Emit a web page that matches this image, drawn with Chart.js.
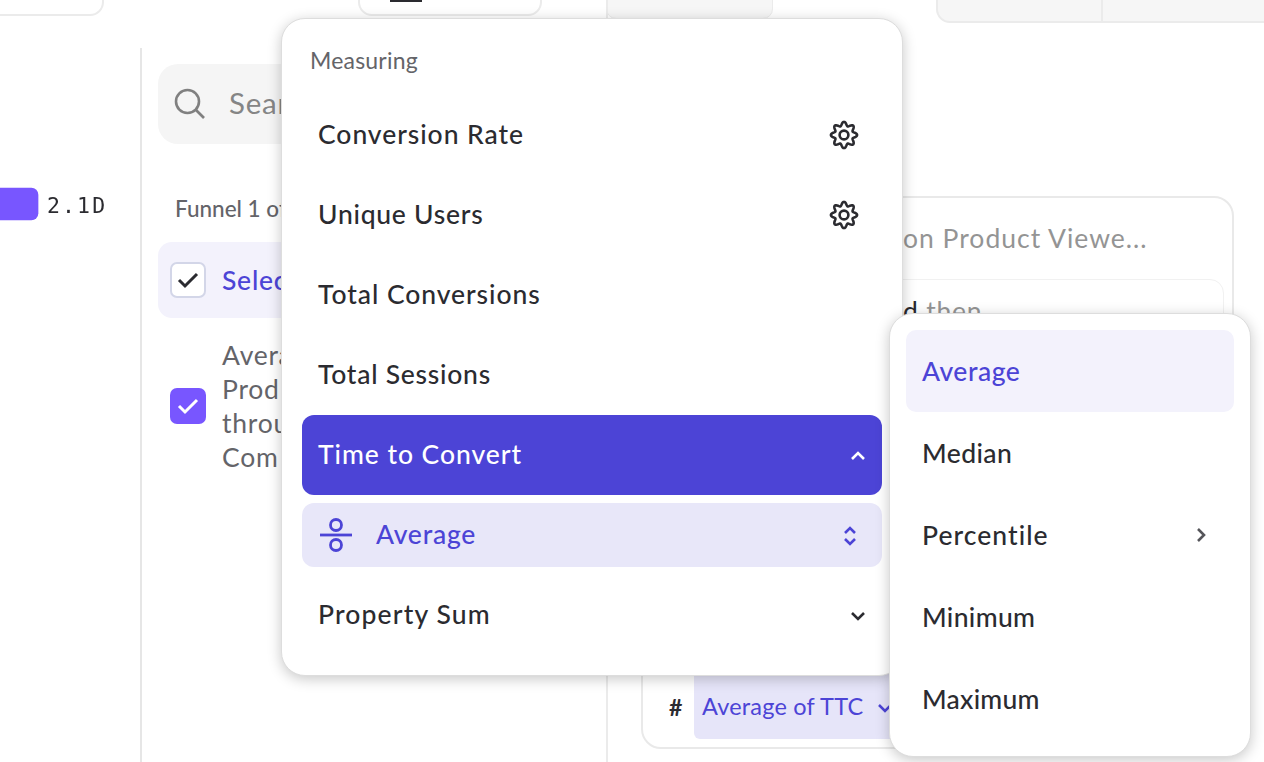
<!DOCTYPE html>
<html>
<head>
<meta charset="utf-8">
<title>Time to Convert</title>
<script src="https://cdn.jsdelivr.net/npm/chart.js@4"></script>
<style>
html,body{margin:0;padding:0;background:#fff;}
body{width:1264px;height:762px;overflow:hidden;position:relative;font-family:'Lato',sans-serif;color:#2b2b30;-webkit-font-smoothing:antialiased;}
.box,.t,svg,canvas{position:absolute;}
.box{box-sizing:border-box;}
.t{white-space:nowrap;line-height:1;transform:translateY(-50%);letter-spacing:.75px;margin-top:-1px;}
.item{font-size:26.5px;font-weight:500;left:318px;}
.sub{font-size:26.5px;font-weight:500;left:922px;}
.grey{color:#646469;font-size:26.5px;left:222px;}
.popup{background:#fff;border-radius:24px;border:1px solid #ddd;box-shadow:0 3px 14px rgba(0,0,0,.22);}
</style>
</head>
<body>
<!-- background page -->
<div class="box" style="left:-20px;top:-20px;width:124px;height:36px;border:2px solid #ebebeb;border-radius:14px;"></div>
<div class="box" style="left:358px;top:-20px;width:184px;height:36px;border:2px solid #ebebeb;border-radius:14px;"></div>
<div class="box" style="left:390px;top:-4px;width:32px;height:6px;background:#2b2b30;"></div>
<div class="box" style="left:606px;top:-20px;width:167px;height:39px;background:#f6f6f6;border:1px solid #ebebeb;border-radius:10px;"></div>
<div class="box" style="left:936px;top:-20px;width:360px;height:43px;background:#f6f6f6;border:2px solid #ebebeb;border-radius:14px;"></div>
<div class="box" style="left:1101px;top:0;width:2px;height:22px;background:#ebebeb;"></div>
<div class="box" style="left:140px;top:48px;width:2px;height:714px;background:#e6e6e6;"></div>
<div class="box" style="left:606px;top:0;width:2px;height:762px;background:#ebebeb;"></div>

<canvas id="grafico" style="left:0;top:169px;"></canvas>

<div class="box" style="left:158px;top:64px;width:200px;height:80px;background:#f5f5f5;border-radius:20px;"></div>
<svg style="left:174px;top:88px;" width="32" height="32" viewBox="0 0 32 32" fill="none" stroke="#808080" stroke-width="2.6"><circle cx="13.5" cy="13.5" r="11.5"/><line x1="22" y1="22" x2="30" y2="30"/></svg>
<div class="t" style="left:229px;top:104px;font-size:29.5px;color:#858585;">Sear</div>
<div class="t" style="left:175px;top:210px;font-size:22.5px;color:#646469;letter-spacing:0;font-weight:500;">Funnel 1 of</div>
<div class="box" style="left:158px;top:242px;width:200px;height:76px;background:#f3f2fc;border-radius:14px;"></div>
<div class="box" style="left:170px;top:262px;width:36px;height:36px;background:#fff;border:2px solid #d3d6e8;border-radius:7px;"></div>
<svg style="left:176px;top:270px;" width="24" height="20" fill="none" stroke="#2b2b30" stroke-width="3"><path d="M3 10l6 6L21 4"/></svg>
<div class="t" style="left:222px;top:281px;font-size:26.5px;color:#4c44d6;font-weight:500;">Selec</div>
<div class="box" style="left:170px;top:388px;width:36px;height:36px;background:#7856ff;border-radius:7px;"></div>
<svg style="left:176px;top:396px;" width="24" height="20" fill="none" stroke="#fff" stroke-width="3"><path d="M3 10l6 6L21 4"/></svg>
<div class="t grey" style="top:356px;">Avera</div>
<div class="t grey" style="top:390px;">Prod</div>
<div class="t grey" style="top:424px;">throu</div>
<div class="t grey" style="top:458px;">Com</div>

<div class="box" style="left:641px;top:196px;width:593px;height:553px;background:#fff;border:2px solid #e9e9e9;border-radius:20px;"></div>
<div class="t" style="left:903px;top:239px;font-size:26.5px;color:#949494;letter-spacing:1px;">on Product Viewe...</div>
<div class="box" style="left:700px;top:279px;width:524px;height:100px;background:#fff;border:1px solid #f1f1f1;border-radius:14px;"></div>
<div class="t" style="left:903px;top:312px;font-size:26.5px;color:#2b2b30;">d <span style="color:#949494;">then</span></div>
<div class="t" style="left:669px;top:708px;font-size:23px;font-weight:700;">#</div>
<div class="box" style="left:694px;top:660px;width:220px;height:79px;background:#e6e5f9;border-radius:6px;"></div>
<div class="t" style="left:702px;top:708px;font-size:23.5px;color:#4c44d6;letter-spacing:.2px;">Average of TTC</div>
<svg style="left:877px;top:702px;" width="16" height="12" fill="none" stroke="#4c44d6" stroke-width="2.5"><path d="M2 3l6 6 6-6"/></svg>

<!-- main menu -->
<div class="box popup" style="left:281px;top:18px;width:622px;height:658px;"></div>
<div class="t" style="left:310px;top:61px;font-size:23px;color:#646469;letter-spacing:.2px;">Measuring</div>
<div class="t item" style="top:135px;letter-spacing:.95px;">Conversion Rate</div>
<svg class="gear" style="left:829px;top:120px;" width="30" height="30"></svg>
<div class="t item" style="top:215px;">Unique Users</div>
<svg class="gear" style="left:829px;top:200px;" width="30" height="30"></svg>
<div class="t item" style="top:295px;letter-spacing:.95px;">Total Conversions</div>
<div class="t item" style="top:375px;">Total Sessions</div>
<div class="box" style="left:302px;top:415px;width:580px;height:80px;background:#4c44d6;border-radius:12px;"></div>
<div class="t item" style="top:455px;color:#fff;letter-spacing:.95px;">Time to Convert</div>
<svg style="left:849px;top:449px;" width="18" height="12" fill="none" stroke="#fff" stroke-width="2.6"><path d="M3 10l6-6 6 6"/></svg>
<div class="box" style="left:302px;top:503px;width:580px;height:64px;background:#e8e7f9;border-radius:12px;"></div>
<svg style="left:318px;top:517px;" width="36" height="36" fill="none" stroke="#4c44d6" stroke-width="2.8"><circle cx="18" cy="8" r="5.5"/><line x1="2" y1="18" x2="34" y2="18"/><circle cx="18" cy="28" r="5.5"/></svg>
<div class="t item" style="left:376px;top:535px;color:#4c44d6;">Average</div>
<svg style="left:842px;top:524px;" width="16" height="24" fill="none" stroke="#4c44d6" stroke-width="2.6"><path d="M3 9l5-5 5 5M3 15l5 5 5-5"/></svg>
<div class="t item" style="top:615px;letter-spacing:1.15px;">Property Sum</div>
<svg style="left:849px;top:610px;" width="18" height="12" fill="none" stroke="#2b2b30" stroke-width="2.6"><path d="M3 3l6 6 6-6"/></svg>

<!-- submenu -->
<div class="box popup" style="left:889px;top:313px;width:362px;height:444px;"></div>
<div class="box" style="left:906px;top:330px;width:328px;height:82px;background:#f3f2fc;border-radius:10px;"></div>
<div class="t sub" style="top:372px;color:#4c44d6;letter-spacing:.5px;">Average</div>
<div class="t sub" style="top:454px;letter-spacing:.4px;">Median</div>
<div class="t sub" style="top:536px;letter-spacing:1.05px;">Percentile</div>
<svg style="left:1195px;top:526px;" width="14" height="18" fill="none" stroke="#55555a" stroke-width="2.6"><path d="M3 3l6 6-6 6"/></svg>
<div class="t sub" style="top:618px;letter-spacing:.35px;">Minimum</div>
<div class="t sub" style="top:700px;letter-spacing:.25px;">Maximum</div>

<script>
var categorias = ['Average of TTC'];
var valores = [2.1];
var rotulos = ['2.1D'];

// gear icons of the menu
document.querySelectorAll('.gear').forEach(function (el) {
  var d = '';
  for (var i = 0; i <= 120; i++) {
    var a = i / 120 * Math.PI * 2;
    var r = 11.2 + 1.9 * Math.cos(a * 8);
    d += (i ? 'L' : 'M') + (15 + r * Math.sin(a)).toFixed(2) + ' ' + (15 - r * Math.cos(a)).toFixed(2);
  }
  el.innerHTML = '<path d="' + d + 'Z" fill="none" stroke="#2b2b30" stroke-width="2.6" stroke-linejoin="round"/>' +
    '<circle cx="15" cy="15" r="4.4" fill="none" stroke="#2b2b30" stroke-width="2.6"/>';
});

var rotuloBarra = {
  id: 'rotuloBarra',
  afterDatasetsDraw: function (chart) {
    var ctx = chart.ctx;
    var meta = chart.getDatasetMeta(0);
    ctx.save();
    ctx.font = '21.5px "DejaVu Sans Mono"';
    ctx.letterSpacing = '2.1px';
    ctx.fillStyle = '#2b2b30';
    ctx.textBaseline = 'middle';
    meta.data.forEach(function (bar, i) {
      ctx.fillText(rotulos[i], bar.x + 9, bar.y + 3);
    });
    ctx.restore();
  }
};

var ctx = document.getElementById('grafico');
ctx.style.width = '130px';
ctx.style.height = '70px';
ctx.width = 130;
ctx.height = 70;
var chart = new Chart(ctx, {
  type: 'bar',
  data: {
    labels: categorias,
    datasets: [{
      data: valores,
      backgroundColor: '#7856ff',
      barThickness: 32,
      borderRadius: 7,
      borderSkipped: 'left'
    }]
  },
  options: {
    indexAxis: 'y',
    responsive: false,
    animation: false,
    layout: { padding: 0 },
    plugins: { legend: { display: false }, tooltip: { enabled: false } },
    scales: {
      x: { display: false, min: 0, max: 7.18 },
      y: { display: false }
    }
  },
  plugins: [rotuloBarra]
});
</script>
</body>
</html>
